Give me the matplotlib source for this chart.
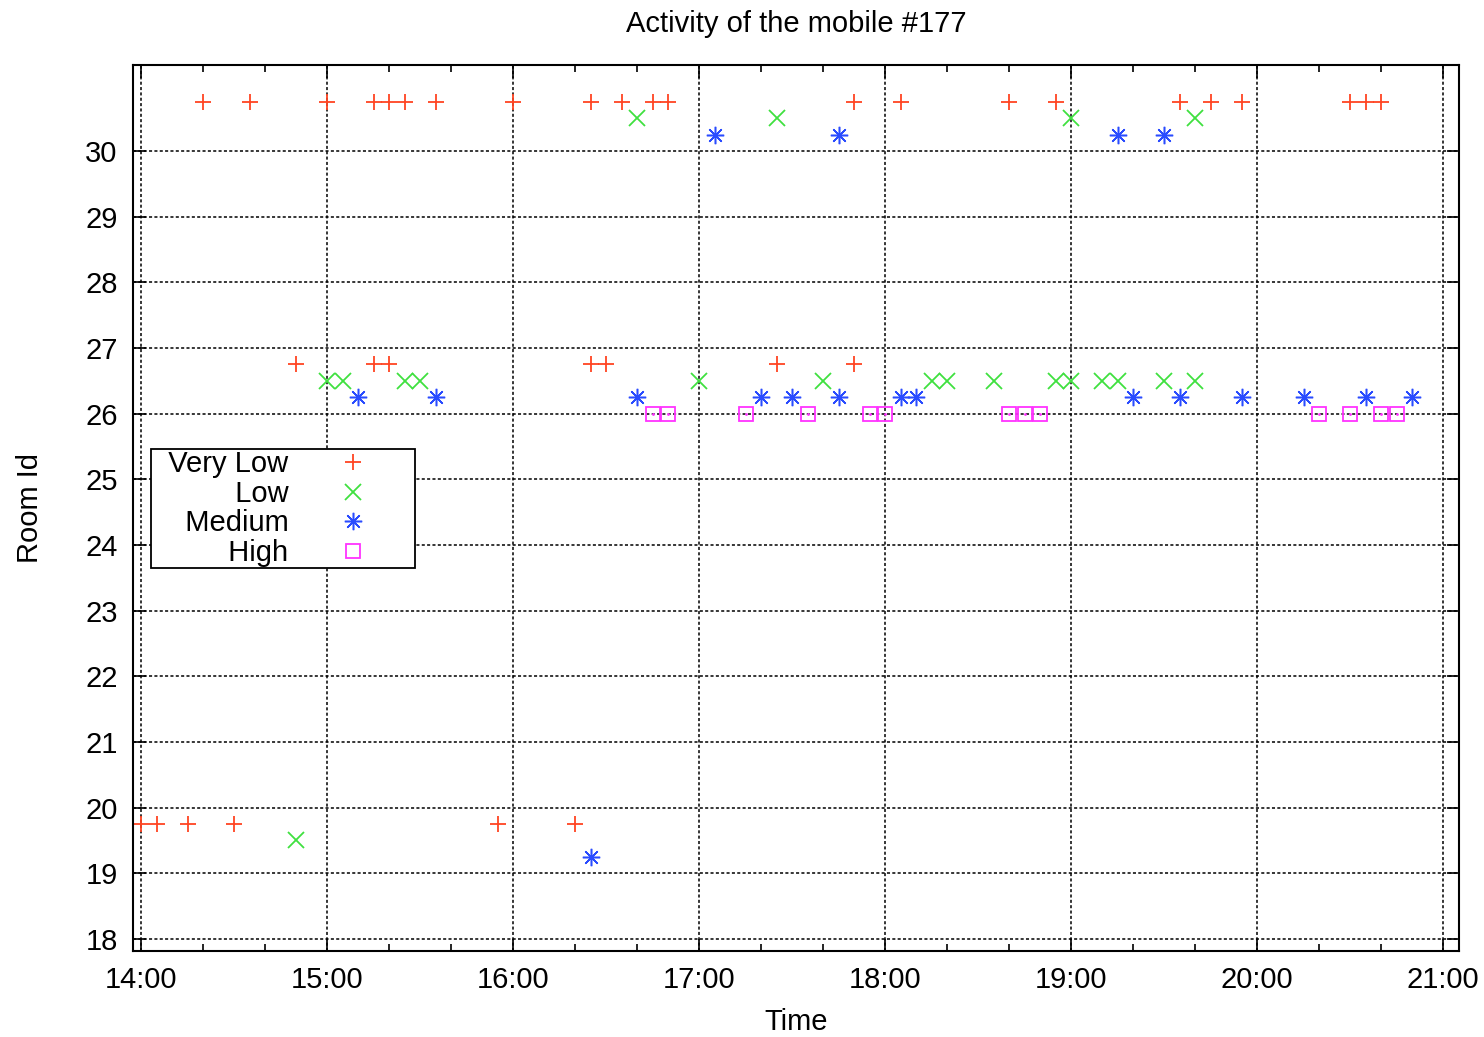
import matplotlib
matplotlib.use("Agg")
import matplotlib.pyplot as plt
from matplotlib.ticker import MultipleLocator, FuncFormatter

plt.rcParams['font.family'] = ['Liberation Sans', 'DejaVu Sans']

# activity samples (HH:MM) and the room level they were plotted at
very_low_times = ["14:20", "14:35", "15:00", "15:15", "15:20", "15:25", "15:35", "16:00",
                  "16:25", "16:35", "16:45", "16:50", "17:50", "18:05", "18:40", "18:55",
                  "19:35", "19:45", "19:55", "20:30", "20:35", "20:40",
                  "14:50", "15:15", "15:20", "16:25", "16:30", "17:25", "17:50",
                  "14:00", "14:05", "14:15", "14:30", "15:55", "16:20"]
very_low_rooms = [30.75] * 22 + [26.75] * 7 + [19.75] * 6

low_times = ["16:40", "17:25", "19:00", "19:40",
             "15:00", "15:05", "15:25", "15:30", "17:00", "17:40", "18:15", "18:20",
             "18:35", "18:55", "19:00", "19:10", "19:15", "19:30", "19:40",
             "14:50"]
low_rooms = [30.5] * 4 + [26.5] * 15 + [19.5]

medium_times = ["17:05", "17:45", "19:15", "19:30",
                "15:10", "15:35", "16:40", "17:20", "17:30", "17:45", "18:05", "18:10",
                "19:20", "19:35", "19:55", "20:15", "20:35", "20:50",
                "16:25"]
medium_rooms = [30.25] * 4 + [26.25] * 14 + [19.25]

high_times = ["16:45", "16:50", "17:15", "17:35", "17:55", "18:00", "18:40", "18:45",
              "18:50", "20:20", "20:30", "20:40", "20:45"]
high_rooms = [26.0] * 13

hour_ticks = [14, 15, 16, 17, 18, 19, 20, 21]
room_ticks = list(range(18, 31))


def to_hours(times):
    return [int(t[:2]) + int(t[3:]) / 60 for t in times]


fig = plt.figure(figsize=(14.84, 10.37), dpi=100)
ax = fig.add_axes([133 / 1484, 1 - 951 / 1037, 1326 / 1484, 886 / 1037])

fs = 21
ms = 11
mew = 1.3
pad = "  "  # gnuplot leaves some room left of the key labels
ax.plot(to_hours(very_low_times), very_low_rooms, ls='none', marker='+', ms=ms, mew=mew,
        color='#ff4422', label=pad + 'Very Low')
ax.plot(to_hours(low_times), low_rooms, ls='none', marker='x', ms=ms, mew=mew,
        color='#3fe03f', label=pad + 'Low')
ax.plot(to_hours(medium_times), medium_rooms, ls='none', marker=(8, 2, 0), ms=12.5, mew=1.1,
        color='#2a4cff', label=pad + 'Medium')
ax.plot(to_hours(high_times), high_rooms, ls='none', marker='s', ms=10.5, mew=mew,
        mfc='none', color='#ff33ff', label=pad + 'High')
ax.plot(to_hours(high_times), high_rooms, ls='none', marker='.', ms=2, color='#ff33ff')

ax.set_xlim(14 - 8 / 186, 21 + 16 / 186)
ax.set_ylim(18 - 12 / 65.67, 30 + 86 / 65.67)

ax.set_xticks(hour_ticks)
ax.xaxis.set_major_formatter(FuncFormatter(lambda v, p: f"{int(round(v))}:00"))
ax.xaxis.set_minor_locator(MultipleLocator(1 / 3))
ax.set_yticks(room_ticks)

ax.tick_params(which='both', direction='in', top=True, right=True, width=1.2,
               labelsize=fs, colors='black')
ax.tick_params(which='major', length=9, pad=11)
ax.tick_params(which='minor', length=5)
for s in ax.spines.values():
    s.set_linewidth(1.5)

ax.grid(True, which='major', color='black', linestyle=(0, (2, 1.5)), linewidth=1.1)

ax.set_title("Activity of the mobile #177", fontsize=fs, pad=24)
ax.set_xlabel("Time", fontsize=fs, labelpad=10)
ax.set_ylabel("Room Id", fontsize=fs, labelpad=30)

leg = ax.legend(loc='upper left', bbox_to_anchor=(18 / 1326, 502 / 886), borderaxespad=0,
                fontsize=fs, markerfirst=False, fancybox=False, framealpha=1,
                edgecolor='black', handletextpad=0.1, labelspacing=0.05,
                borderpad=0.05, handlelength=4.2)
leg.get_frame().set_linewidth(1.3)

fig.savefig("out.png", dpi=100)
